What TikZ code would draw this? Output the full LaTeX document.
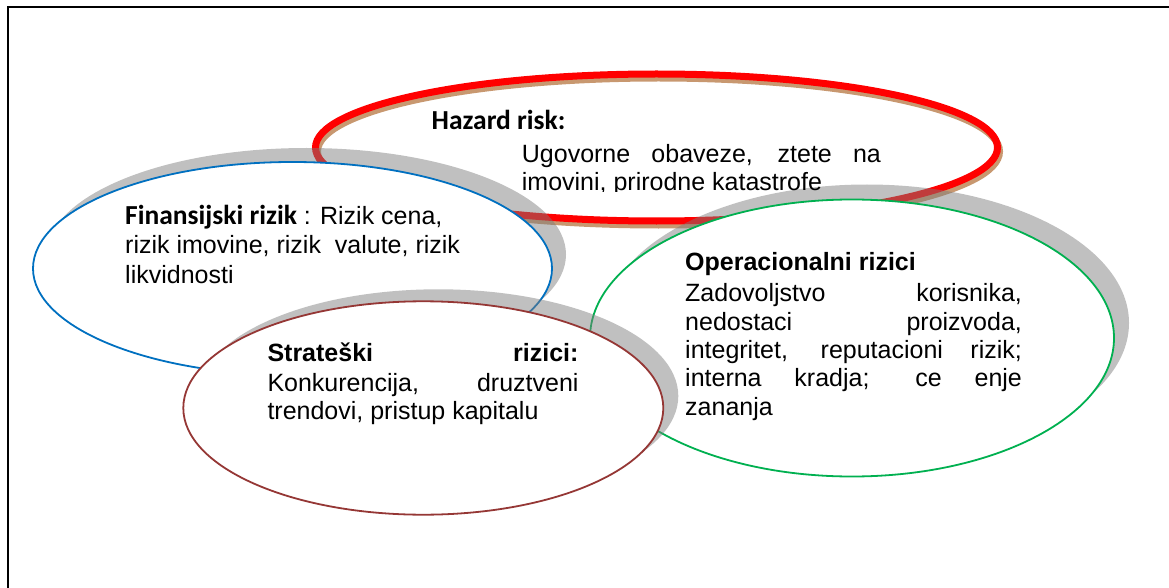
\documentclass[tikz,border=0pt]{standalone}
\usepackage{fontspec}
\setmainfont{Liberation Sans}
\newfontfamily\calibrifont{Carlito}
\definecolor{ringred}{RGB}{255,0,0}
\definecolor{ringtan}{RGB}{200,152,112}
\definecolor{ringblue}{RGB}{0,112,192}
\definecolor{ringgreen}{RGB}{0,176,80}
\definecolor{ringbrown}{RGB}{149,55,53}
\definecolor{shadowgray}{RGB}{124,124,124}
\begin{document}
\begin{tikzpicture}[x=1pt,y=-1pt,
  body/.style={inner sep=0pt, anchor=base west, font=\fontsize{25}{28}\selectfont},
  titlecal/.style={body, font=\calibrifont\bfseries\fontsize{27.5}{30}\selectfont},
  titlebold/.style={body, font=\bfseries\fontsize{25}{28}\selectfont},
  shade/.style={fill=shadowgray, fill opacity=0.48},
  thinring/.style={fill=white, line width=1.8pt}]
\useasboundingbox (0,0) rectangle (1169,588);

% page frame (top and left edge)
\draw[line width=2pt] (1169,6.8) -- (7.7,6.8) -- (7.7,588);

% Hazard risk: thick red ring with tan shadow
\draw[ringtan, line width=7pt] (658.5,151.5) ellipse [x radius=341, y radius=73.5];
\draw[ringred, line width=7pt] (656.5,147.5) ellipse [x radius=341, y radius=73.5];

% Finansijski rizik
\fill[shade] (306.5,254.5) ellipse [x radius=259.5, y radius=106.5];
\draw[thinring, draw=ringblue] (292.5,268.5) ellipse [x radius=259.5, y radius=106.5];

% Operacionalni rizici
\fill[shade] (867,323) ellipse [x radius=262, y radius=138.5];
\draw[thinring, draw=ringgreen] (852,338) ellipse [x radius=262, y radius=138.5];

% Strateski rizici
\fill[shade] (438.3,396) ellipse [x radius=240, y radius=106.7];
\draw[thinring, draw=ringbrown] (423.3,408) ellipse [x radius=240, y radius=106.7];

% texts
\node[titlecal] (hazT) at (431.5,130) {Hazard risk:};
\begin{scope}
  \clip (0,0) rectangle (1169,192);
  \node[body] (haz1) at (521.7,162.7) {\makebox[359pt][s]{Ugovorne obaveze, ztete na}};
  \node[body] (haz2) at (521.7,190) {imovini, prirodne katastrofe};
\end{scope}

\node[body] (fin1) at (125,224) {{\calibrifont\bfseries\fontsize{27.5}{30}\selectfont Finansijski rizik} : Rizik cena,};
\node[body] (fin2) at (125,253.5) {rizik imovine, rizik\ \ valute, rizik};
\node[body] (fin3) at (125,283.3) {likvidnosti};

\node[titlebold] (strT) at (267.3,361.7) {\makebox[311pt][s]{Strateški rizici:}};
\node[body] (str1) at (267.3,391) {\makebox[311pt][s]{Konkurencija, druztveni}};
\node[body] (str2) at (267.3,419.3) {trendovi, pristup kapitalu};

\node[titlebold] (opT) at (685,270) {Operacionalni rizici};
\node[body] (op1) at (685,301.7) {\makebox[336.7pt][s]{Zadovoljstvo korisnika,}};
\node[body] (op2) at (685,330.3) {\makebox[336.7pt][s]{nedostaci proizvoda,}};
\node[body] (op3) at (685,358.3) {\makebox[336.7pt][s]{integritet, reputacioni rizik;}};
\node[body] (op4) at (685,386.7) {\makebox[336.7pt][s]{interna kradja; ce enje}};
\node[body] (op5) at (685,415) {zananja};
\end{tikzpicture}
\end{document}
